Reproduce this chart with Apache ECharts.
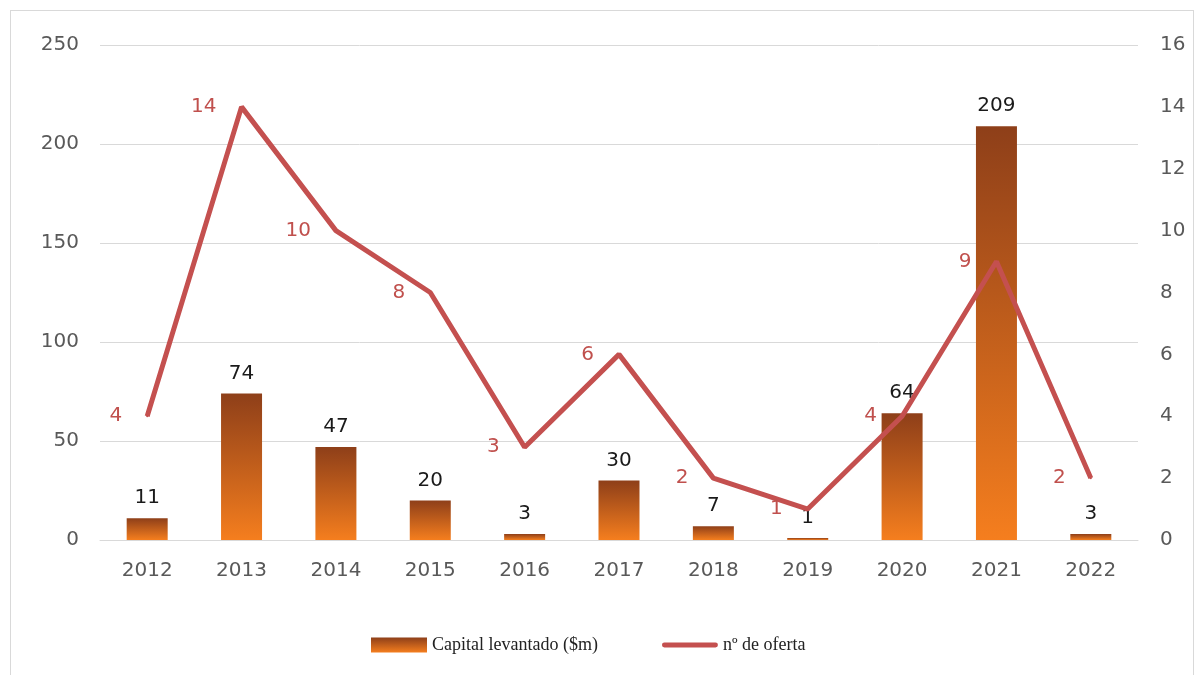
<!DOCTYPE html>
<html>
<head>
<meta charset="utf-8">
<script src="https://cdn.jsdelivr.net/npm/echarts@6/dist/echarts.min.js"></script>
<style>
  html, body { margin: 0; padding: 0; background: #fff; }
  #frame { position: absolute; left: 10px; top: 10px; width: 1184px; height: 670px; border: 1px solid #d9d9d9; box-sizing: border-box; }
  #chart { position: absolute; left: 0; top: 0; width: 1200px; height: 675px; }
</style>
</head>
<body>
<div id="frame"></div>
<div id="chart"></div>
<script>
const years = ['2012', '2013', '2014', '2015', '2016', '2017', '2018', '2019', '2020', '2021', '2022'];
const capital = [11, 74, 47, 20, 3, 30, 7, 1, 64, 209, 3];
const offers = [4, 14, 10, 8, 3, 6, 2, 1, 4, 9, 2];

const axisFont = '"DejaVu Sans", sans-serif';
const lineColor = '#c4504f';
const chart = echarts.init(document.getElementById('chart'));

const barGradient = new echarts.graphic.LinearGradient(0, 0, 0, 1, [
  { offset: 0, color: '#8e3f19' },
  { offset: 1, color: '#f57e1e' }
]);

chart.setOption({
  animation: false,
  grid: { left: 100, right: 62, top: 45, bottom: 135 },
  legend: {
    top: 631,
    left: 366,
    itemGap: 64,
    itemWidth: 56,
    itemHeight: 15,
    textStyle: { fontFamily: '"Liberation Serif", serif', fontSize: 18, color: '#222' },
    data: [
      { name: 'Capital levantado ($m)', icon: 'rect' },
      {
        name: 'nº de oferta',
        icon: 'path://M2,0 L54,0 A2.5,2.5 0 0 1 54,5 L2,5 A2.5,2.5 0 0 1 2,0 Z',
        itemStyle: { color: lineColor, opacity: 1 }
      }
    ]
  },
  xAxis: {
    type: 'category',
    data: years,
    axisLine: { lineStyle: { color: '#d9d9d9' } },
    axisTick: { show: false },
    axisLabel: { color: '#595959', fontSize: 20, fontFamily: axisFont, margin: 21 }
  },
  yAxis: [
    {
      type: 'value', min: 0, max: 250, interval: 50,
      axisLine: { show: false }, axisTick: { show: false },
      splitLine: { lineStyle: { color: '#d9d9d9' } },
      axisLabel: { color: '#595959', fontSize: 20, fontFamily: axisFont, margin: 21, align: 'right' }
    },
    {
      type: 'value', min: 0, max: 16, interval: 2,
      axisLine: { show: false }, axisTick: { show: false },
      splitLine: { show: false },
      axisLabel: { color: '#595959', fontSize: 20, fontFamily: axisFont, margin: 22 }
    }
  ],
  series: [
    {
      name: 'Capital levantado ($m)',
      type: 'bar',
      data: capital,
      barWidth: 41,
      itemStyle: { color: barGradient },
      label: { show: true, position: 'top', distance: 10, color: '#1a1a1a', fontSize: 20, fontFamily: axisFont }
    },
    {
      name: 'nº de oferta',
      type: 'line',
      yAxisIndex: 1,
      data: offers,
      symbol: 'circle',
      symbolSize: 2,
      showSymbol: true,
      lineStyle: { color: lineColor, width: 5 },
      itemStyle: { color: lineColor },
      z: 3,
      label: { show: true, position: 'left', distance: 24, color: '#c0504d', fontSize: 20, fontFamily: axisFont }
    }
  ]
});
</script>
</body>
</html>
